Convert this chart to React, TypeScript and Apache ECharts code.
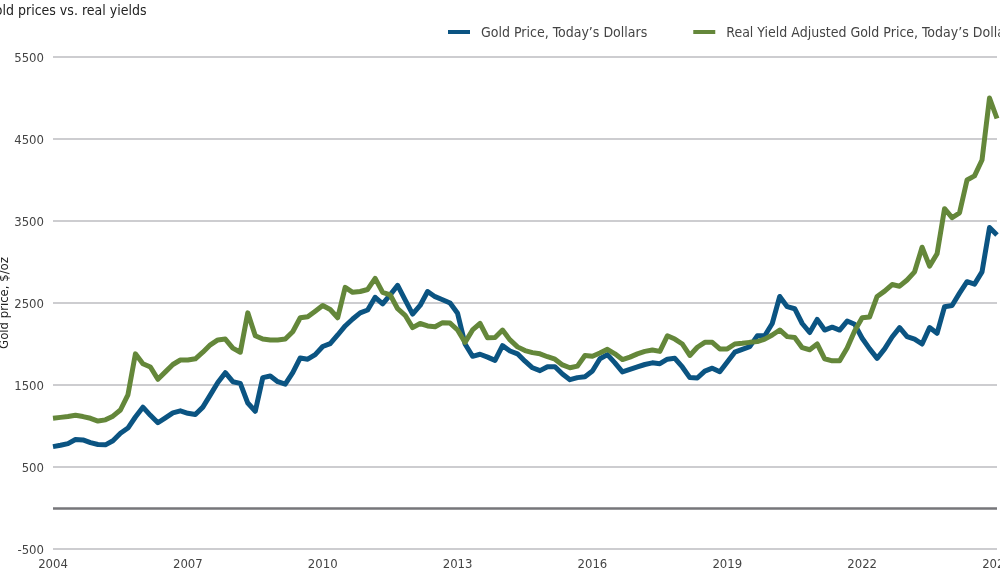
import React, { useRef, useEffect } from "react";
import * as echarts from "echarts";

// one point every two months, starting January 2004
const startYear = 2004;
const pointsPerYear = 6;

const goldPrice = [
  748, 765, 785, 835, 830, 797,
  775, 770, 820, 911, 975, 1110,
  1230, 1130, 1040, 1100, 1160, 1185,
  1155, 1140, 1230, 1380, 1530, 1650,
  1540, 1520, 1280, 1180, 1590, 1610,
  1540, 1510, 1650, 1830, 1815, 1870,
  1970, 2005, 2110, 2220, 2305, 2380,
  2415, 2570, 2490, 2600, 2715, 2537,
  2365, 2470, 2640, 2577, 2540, 2500,
  2374, 2000, 1850, 1875, 1840, 1800,
  1980, 1915, 1880, 1790, 1710, 1675,
  1723, 1723, 1635, 1565, 1590, 1600,
  1670, 1820, 1870, 1770, 1660, 1690,
  1720, 1750, 1770, 1760, 1815, 1825,
  1720, 1590, 1585, 1670, 1705, 1662,
  1780, 1900, 1935, 1967, 2100, 2100,
  2250, 2580, 2455, 2430, 2250, 2140,
  2300, 2170, 2205, 2170, 2280, 2240,
  2070, 1940, 1825, 1940, 2085, 2200,
  2090, 2060, 2000, 2200, 2130, 2455,
  2470, 2620, 2760, 2730, 2880, 3420,
  3330,
];

const realYieldAdjusted = [
  1094, 1105, 1115, 1130, 1115, 1094,
  1060, 1075, 1120, 1195, 1380, 1880,
  1760, 1720, 1570, 1660, 1750, 1805,
  1805, 1820, 1900, 1990, 2050, 2060,
  1950, 1900, 2380, 2100, 2060, 2050,
  2050, 2060, 2150, 2320, 2333, 2400,
  2470, 2420, 2320, 2690, 2630, 2640,
  2665, 2800, 2630, 2600, 2430, 2350,
  2200, 2250, 2220, 2210, 2260, 2255,
  2171, 2020, 2171, 2250, 2075, 2080,
  2170, 2050, 1965, 1920, 1895, 1880,
  1845, 1815, 1745, 1710, 1730, 1860,
  1850, 1890, 1935, 1880, 1810, 1840,
  1880, 1910, 1927, 1910, 2100, 2060,
  2000, 1860, 1960, 2020, 2020, 1940,
  1940, 2000, 2008, 2020, 2029, 2060,
  2110, 2171, 2090, 2080, 1955, 1930,
  2000, 1820, 1795, 1795, 1950, 2160,
  2320, 2330, 2580, 2645, 2725, 2705,
  2781, 2880, 3180, 2950, 3100, 3650,
  3540, 3600, 4000, 4050, 4244, 5000,
  4750,
];

const seriesNames = [
  "Gold Price, Today’s Dollars",
  "Real Yield Adjusted Gold Price, Today’s Dollars",
];
const seriesColors = ["#0b5482", "#64873a"];

const font = "'Liberation Sans Narrow', 'DejaVu Sans Condensed', sans-serif";

const toPoints = (values: number[]) =>
  values.map((v, i) => [startYear + i / pointsPerYear, v]);

const App = function () {
  const chart = useRef<HTMLDivElement>(null);
  useEffect(() => {
    if (!chart.current) return;
    const myChart = echarts.init(chart.current, undefined, { renderer: "svg" });
    const option = {
      animation: false,
      textStyle: { fontFamily: font },
      title: {
        text: "Gold prices vs. real yields",
        left: -20,
        top: -2,
        textStyle: { fontFamily: font, fontSize: 14, fontWeight: "normal", color: "#222" },
      },
      legend: {
        left: 443,
        top: 20,
        width: 900,
        icon: "rect",
        itemWidth: 22,
        itemHeight: 4,
        itemGap: 46,
        textStyle: { fontFamily: font, fontSize: 14, color: "#444", padding: [0, 0, 0, 6] },
        data: seriesNames,
      },
      grid: { left: 53, right: 3, top: 57, bottom: 27, outerBoundsMode: "none", containLabel: false },
      xAxis: {
        type: "value",
        min: 2004,
        max: 2025,
        interval: 3,
        axisLine: { show: false },
        axisTick: { show: false },
        splitLine: { show: false },
        axisLabel: {
          color: "#444",
          fontSize: 13,
          margin: 8,
          fontFamily: font,
          formatter: (v: number) => String(v),
        },
      },
      yAxis: {
        type: "value",
        min: -500,
        max: 5500,
        interval: 1000,
        name: "Gold price, $/oz",
        nameLocation: "middle",
        nameGap: 43,
        nameMoveOverlap: false,
        nameTextStyle: { color: "#222", fontSize: 13, fontFamily: font },
        axisLine: { show: false },
        axisTick: { show: false },
        axisLabel: {
          color: "#444",
          fontSize: 13,
          margin: 9,
          fontFamily: font,
          formatter: (v: number) => String(v),
        },
        splitLine: { lineStyle: { color: "#bcbcc0", width: 1.5 } },
      },
      series: [
        {
          name: seriesNames[0],
          type: "line",
          data: toPoints(goldPrice),
          showSymbol: false,
          symbol: "none",
          lineStyle: { color: seriesColors[0], width: 5, join: "round" },
          itemStyle: { color: seriesColors[0] },
          markLine: {
            silent: true,
            symbol: "none",
            label: { show: false },
            lineStyle: { color: "#76767a", width: 2.5, type: "solid" },
            data: [{ yAxis: 0 }],
          },
        },
        {
          name: seriesNames[1],
          type: "line",
          data: toPoints(realYieldAdjusted),
          showSymbol: false,
          symbol: "none",
          lineStyle: { color: seriesColors[1], width: 5, join: "round" },
          itemStyle: { color: seriesColors[1] },
        },
      ],
    };
    myChart.setOption(option);
    return () => {
      myChart.dispose();
    };
  }, []);
  return (
    <div
      ref={chart}
      style={{ position: "fixed", left: 0, top: 0, width: 1000, height: 576 }}
    ></div>
  );
};

export default App;
